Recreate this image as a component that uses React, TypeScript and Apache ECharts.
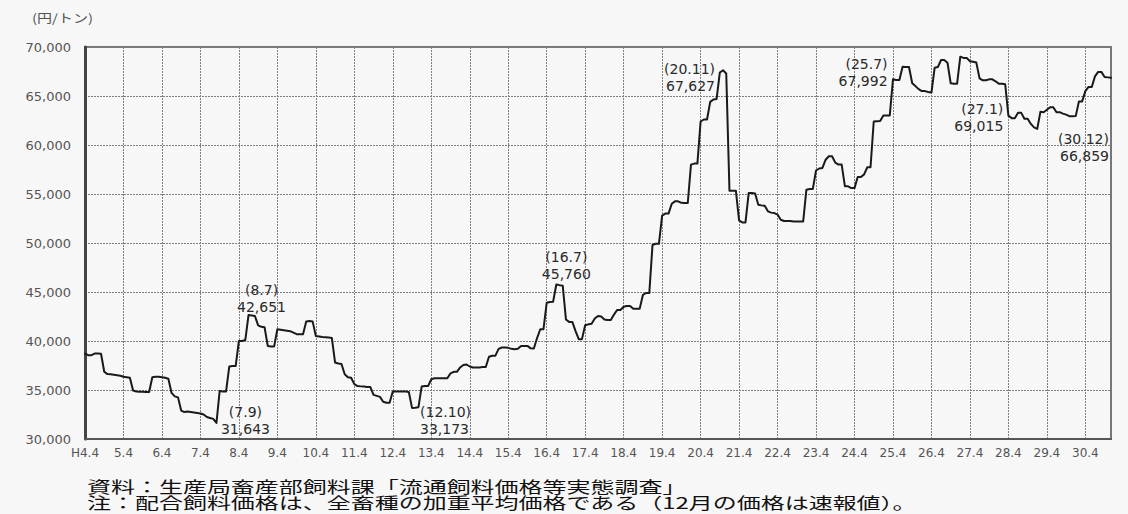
import React, { useEffect, useRef } from "react";
import * as echarts from "echarts";

// Monthly compound-feed price (yen/ton), by fiscal year (April ... March)
const FY4 = [38720, 38550, 38550, 38720, 38720, 38700, 36860, 36620, 36600, 36550, 36500, 36450];
const FY5 = [36350, 36300, 36250, 34950, 34850, 34830, 34830, 34800, 34800, 36300, 36350, 36350];
const FY6 = [36300, 36250, 36150, 34700, 34350, 34250, 32900, 32750, 32800, 32750, 32700, 32650];
const FY7 = [32600, 32500, 32250, 32150, 32050, 31643, 34900, 34850, 34850, 37400, 37450, 37450];
const FY8 = [40000, 40000, 40100, 42651, 42600, 42550, 41600, 41450, 41400, 39500, 39450, 39450];
const FY9 = [41200, 41150, 41100, 41050, 41000, 40850, 40700, 40680, 40700, 42000, 42050, 42000];
const FY10 = [40500, 40450, 40400, 40380, 40350, 40300, 37800, 37700, 37650, 36600, 36300, 36250];
const FY11 = [35600, 35400, 35370, 35350, 35300, 35300, 34500, 34400, 34300, 33800, 33700, 33700];
const FY12 = [34850, 34850, 34850, 34850, 34850, 34800, 33173, 33200, 33250, 35350, 35400, 35400];
const FY13 = [36100, 36200, 36200, 36200, 36200, 36200, 36700, 36850, 36850, 37300, 37550, 37600];
const FY14 = [37400, 37300, 37300, 37300, 37350, 37350, 38400, 38500, 38500, 39200, 39340, 39340];
const FY15 = [39300, 39200, 39170, 39200, 39500, 39500, 39500, 39250, 39240, 40300, 41200, 41200];
const FY16 = [43900, 43980, 44000, 45760, 45700, 45650, 42200, 41950, 41950, 41000, 40190, 40190];
const FY17 = [41600, 41700, 41750, 42300, 42560, 42500, 42200, 42150, 42150, 42700, 43170, 43170];
const FY18 = [43500, 43580, 43580, 43300, 43300, 43300, 44700, 44900, 44900, 49800, 49920, 49920];
const FY19 = [52800, 53000, 53000, 54000, 54250, 54250, 54100, 54080, 54080, 58000, 58100, 58100];
const FY20 = [62400, 62600, 62600, 64400, 64650, 64700, 67400, 67627, 67300, 55340, 55340, 55340];
const FY21 = [52300, 52100, 52100, 55100, 55100, 55050, 53900, 53840, 53800, 53230, 53100, 53050];
const FY22 = [52900, 52370, 52250, 52250, 52250, 52200, 52200, 52200, 52200, 55440, 55500, 55500];
const FY23 = [57400, 57600, 57660, 58500, 58850, 58850, 58200, 58000, 58000, 55800, 55780, 55600];
const FY24 = [55600, 56740, 56740, 57000, 57730, 57730, 62400, 62430, 62450, 63010, 63010, 63010];
const FY25 = [66700, 66630, 66630, 67992, 67960, 67960, 66300, 66010, 65700, 65500, 65500, 65400];
const FY26 = [65350, 67890, 67960, 68670, 68670, 68400, 66300, 66260, 66260, 69015, 68890, 68890];
const FY27 = [68550, 68500, 68410, 66800, 66600, 66600, 66700, 66700, 66500, 66260, 66260, 66200];
const FY28 = [63000, 62740, 62740, 63280, 63280, 62670, 62670, 62150, 61800, 61640, 63400, 63350];
const FY29 = [63600, 63860, 63860, 63350, 63350, 63200, 63100, 62940, 62940, 62950, 64450, 64450];
const FY30 = [65500, 65920, 65920, 67000, 67460, 67460, 66940, 66900, 66859];

const FISCAL_YEARS = [
  FY4, FY5, FY6, FY7, FY8, FY9, FY10, FY11, FY12, FY13, FY14, FY15, FY16, FY17,
  FY18, FY19, FY20, FY21, FY22, FY23, FY24, FY25, FY26, FY27, FY28, FY29, FY30,
];
const FIRST_FY = 4;
const PRICES: number[] = FISCAL_YEARS.flat();

// category labels: "H4.4", "4.5", ... "30.12"
const MONTH_LABELS: string[] = PRICES.map((_, i) => {
  const fy = FIRST_FY + Math.floor(i / 12);
  const k = i % 12;
  const month = ((k + 3) % 12) + 1;
  const year = month >= 4 ? fy : fy + 1;
  return (i === 0 ? "H" : "") + year + "." + month;
});

const Y_MIN = 30000;
const Y_MAX = 70000;
const Y_STEP = 5000;

// annotated points: [month label, value]
const ANNOTATIONS: [string, number][] = [
  ["7.9", 31643],
  ["8.7", 42651],
  ["12.10", 33173],
  ["16.7", 45760],
  ["20.11", 67627],
  ["25.7", 67992],
  ["27.1", 69015],
  ["30.12", 66859],
];

const UNIT_TEXT = "(円/トン)";
const NOTE_1 = "資料：生産局畜産部飼料課「流通飼料価格等実態調査」";
const NOTE_2 = "注：配合飼料価格は、全畜種の加重平均価格である（12月の価格は速報値）。";

// label placement (styling only)
const LABEL_LAYOUT: Record<string, { offset: [number, number]; align: string }> = {
  "7.9": { offset: [29, -2], align: "center" },
  "8.7": { offset: [13, -17], align: "center" },
  "12.10": { offset: [8, 13], align: "left" },
  "16.7": { offset: [10, -19], align: "center" },
  "20.11": { offset: [-8, 7], align: "right" },
  "25.7": { offset: [-15, 6], align: "right" },
  "27.1": { offset: [43, 61], align: "right" },
  "30.12": { offset: [-2, 70], align: "right" },
};

const fmt = (v: number) => v.toLocaleString("en-US");

export default function App() {
  const ref = useRef<HTMLDivElement>(null);

  useEffect(() => {
    if (!ref.current) return;
    const chart = echarts.init(ref.current, null, { renderer: "svg" });
    const yearTick = (index: number) => index % 12 === 0;

    chart.setOption({
      animation: false,
      backgroundColor: "#f7f7f7",
      grid: {
        left: 85,
        right: 17,
        top: 47,
        bottom: 75,
        show: true,
        borderColor: "#777",
        borderWidth: 2,
        backgroundColor: "transparent",
      },
      xAxis: {
        type: "category",
        data: MONTH_LABELS,
        boundaryGap: false,
        axisLine: { show: true, lineStyle: { color: "#555", width: 2 } },
        axisTick: { show: false },
        axisLabel: {
          interval: (i: number) => yearTick(i),
          color: "#555",
          fontSize: 12,
          fontFamily: "DejaVu Sans",
          margin: 8,
        },
        splitLine: {
          show: true,
          interval: (i: number) => yearTick(i),
          lineStyle: { color: "#808080", width: 1, type: [2, 1] },
        },
      },
      yAxis: {
        type: "value",
        min: Y_MIN,
        max: Y_MAX,
        interval: Y_STEP,
        axisLine: { show: true, lineStyle: { color: "#444", width: 3 } },
        axisTick: { show: false },
        axisLabel: {
          formatter: (v: number) => fmt(v),
          color: "#555",
          fontSize: 13,
          fontFamily: "DejaVu Sans",
          margin: 14,
        },
        splitLine: {
          show: true,
          lineStyle: { color: "#808080", width: 1, type: [2, 1] },
        },
      },
      series: [
        {
          type: "line",
          data: PRICES,
          showSymbol: false,
          symbol: "none",
          lineStyle: { color: "#1a1a1a", width: 2, cap: "round", join: "round" },
          z: 5,
          markPoint: {
            symbol: "circle",
            symbolSize: 0,
            silent: true,
            data: ANNOTATIONS.map(([m, v]) => ({
              coord: [m, v],
              label: {
                show: true,
                position: "inside",
                formatter: "(" + m + ")\n" + fmt(v),
                offset: LABEL_LAYOUT[m].offset,
                align: LABEL_LAYOUT[m].align,
                verticalAlign: "middle",
                color: "#2a2a2a",
                fontSize: 14,
                lineHeight: 17,
                fontFamily: "DejaVu Sans",
              },
            })),
          },
        },
      ],
      graphic: [
        {
          type: "text",
          x: 32,
          y: 18,
          scaleX: 1.25,
          style: {
            text: UNIT_TEXT,
            fontSize: 12,
            fontFamily: "Noto Sans CJK JP",
            fill: "#555",
            textAlign: "left",
            textVerticalAlign: "middle",
          },
        },
        {
          type: "text",
          x: 87,
          y: 486,
          scaleX: 1.5,
          style: {
            text: NOTE_1,
            fontSize: 16,
            fontFamily: "Noto Sans CJK JP",
            fill: "#111",
            textAlign: "left",
            textVerticalAlign: "middle",
          },
        },
        {
          type: "text",
          x: 87,
          y: 502,
          scaleX: 1.5,
          style: {
            text: NOTE_2,
            fontSize: 16,
            fontFamily: "Noto Sans CJK JP",
            fill: "#111",
            textAlign: "left",
            textVerticalAlign: "middle",
          },
        },
      ],
    });

    return () => chart.dispose();
  }, []);

  return (
    <div
      ref={ref}
      style={{ position: "fixed", left: 0, top: 0, width: 1128, height: 514 }}
    />
  );
}
